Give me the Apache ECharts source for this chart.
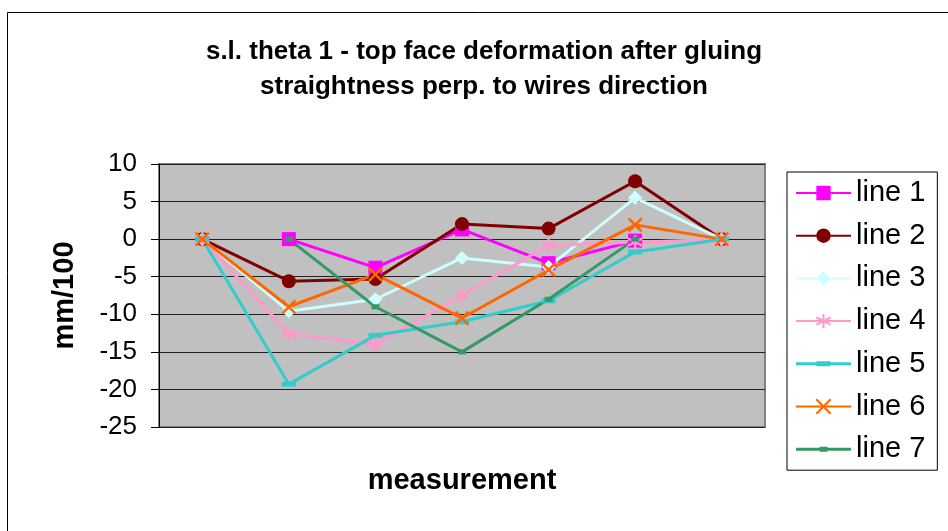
<!DOCTYPE html>
<html>
<head>
<meta charset="utf-8">
<script src="https://cdn.jsdelivr.net/npm/echarts@6/dist/echarts.min.js"></script>
<style>html,body{margin:0;padding:0;background:#fff}#c{width:948px;height:531px}</style>
</head>
<body>
<div id="c"></div>
<script>
var categories = ['1', '2', '3', '4', '5', '6', '7'];
var yTicks = [-25, -20, -15, -10, -5, 0, 5, 10];
var seriesNames = ['line 1', 'line 2', 'line 3', 'line 4', 'line 5', 'line 6', 'line 7'];
var line1 = [null, 0, -3.8, 1.3, -3.2, -0.2, null];
var line2 = [0, -5.6, -5.3, 2.0, 1.4, 7.7, 0];
var line3 = [0, -9.6, -8.0, -2.5, -3.7, 5.5, 0];
var line4 = [0, -12.6, -14.0, -7.5, -0.8, -0.4, 0];
var line5 = [0, -19.3, -12.8, -11.0, -8.2, -1.7, 0];
var line6 = [0, -9.0, -4.7, -10.5, -4.1, 1.9, 0];
var line7 = [null, 0, -9.0, -15.0, -8.0, 0, null];
var titleText = 's.l. theta 1 - top face deformation after gluing\nstraightness perp. to wires direction';

var FONT = "'Liberation Sans', Arial, sans-serif";
var colors = ['#FF00FF', '#800000', '#CCFFFF', '#FF99CC', '#33CCCC', '#FF6600', '#339966'];
var symbols = [
  'rect', 'circle', 'diamond',
  'path://M5,0L5,10M0.7,2.5L9.3,7.5M0.7,7.5L9.3,2.5',
  'rect',
  'path://M0,0L10,10M10,0L0,10',
  'rect'
];
var sizes = [14, 14, 14, 14, [14, 5], 13, [8, 5]];
var datas = [line1, line2, line3, line4, line5, line6, line7];
var strokeSym = [false, false, false, true, false, true, false];
var legendIcons = [null, null, null, null,
  'path://M0,1h20.5v3h-20.5zM20.5,0h14v5h-14zM34.5,1h20.5v3h-20.5z',
  null,
  'path://M0,1h23.5v3h-23.5zM23.5,0h8v5h-8zM31.5,1h23.5v3h-23.5z'
];

var series = datas.map(function (d, i) {
  return {
    name: seriesNames[i],
    type: 'line',
    data: d,
    symbol: symbols[i],
    symbolSize: sizes[i],
    showAllSymbol: true,
    connectNulls: false,
    lineStyle: { color: colors[i], width: 3 },
    itemStyle: strokeSym[i]
      ? { color: colors[i], borderColor: colors[i], borderWidth: 2.5 }
      : { color: colors[i], borderWidth: 0 },
    emphasis: { disabled: true },
    animation: false
  };
});

var legendData = seriesNames.map(function (n, i) {
  return legendIcons[i] ? { name: n, icon: legendIcons[i] } : { name: n };
});

var chart = echarts.init(document.getElementById('c'), null, { renderer: 'canvas' });
chart.setOption({
  animation: false,
  backgroundColor: '#ffffff',
  graphic: [
    { type: 'rect', shape: { x: 7.5, y: 12.5, width: 1200, height: 1200 }, style: { fill: null, stroke: '#000', lineWidth: 1 }, silent: true, z: -10 },
    { type: 'text', x: 484, y: 34, style: { text: titleText, font: 'bold 26px ' + FONT, align: 'center', verticalAlign: 'top', lineHeight: 35, fill: '#000' }, silent: true }
  ],
  grid: {
    left: 159, top: 164, right: 183, bottom: 104,
    show: true, backgroundColor: '#C0C0C0', borderColor: '#808080', borderWidth: 2
  },
  legend: {
    orient: 'vertical',
    left: 787, top: 172,
    data: legendData,
    itemWidth: 55, itemHeight: 18,
    itemGap: 12.7,
    padding: [6, 12, 6, 8],
    backgroundColor: '#fff',
    borderColor: '#000', borderWidth: 1,
    textStyle: { fontFamily: FONT, fontSize: 29, color: '#000', lineHeight: 30 },
    selectedMode: false
  },
  xAxis: {
    type: 'category',
    data: categories,
    boundaryGap: true,
    name: 'measurement',
    nameLocation: 'middle',
    nameGap: 39,
    nameTextStyle: { fontFamily: FONT, fontSize: 29, fontWeight: 'bold', color: '#000' },
    axisLine: { show: false },
    axisTick: { show: false },
    axisLabel: { show: false },
    splitLine: { show: false }
  },
  yAxis: {
    type: 'value',
    min: yTicks[0], max: yTicks[yTicks.length - 1], interval: 5,
    name: 'mm/100',
    nameLocation: 'middle',
    nameRotate: 90,
    nameGap: 80,
    nameTextStyle: { fontFamily: FONT, fontSize: 29, fontWeight: 'bold', color: '#000' },
    axisLine: { show: true, lineStyle: { color: '#000', width: 1 } },
    axisTick: { show: true, inside: false, length: 8, lineStyle: { color: '#000' } },
    axisLabel: { fontFamily: FONT, fontSize: 26, color: '#000', margin: 22 },
    splitLine: { show: true, lineStyle: { color: '#222', width: 1 } }
  },
  series: series
});
</script>
</body>
</html>
